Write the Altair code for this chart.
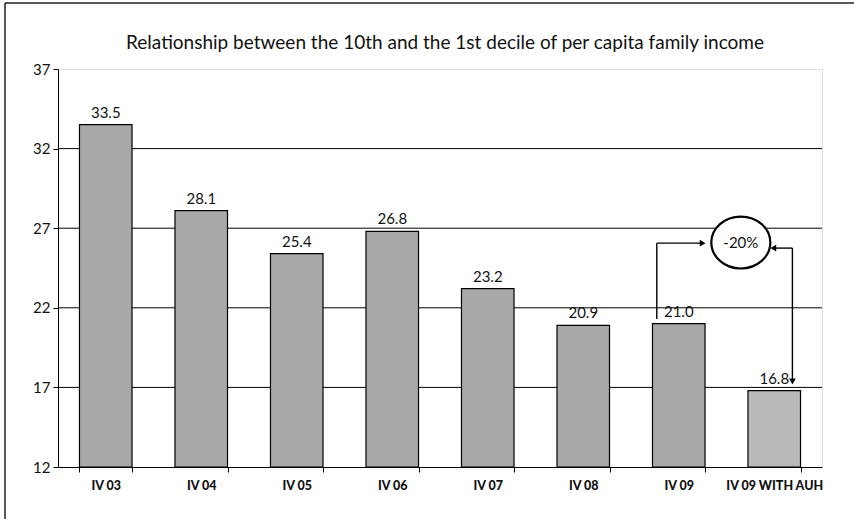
import altair as alt
import pandas as pd

title_text = "Relationship between the 10th and the 1st decile of per capita family income"
categories = ["IV 03", "IV 04", "IV 05", "IV 06", "IV 07", "IV 08", "IV 09", "IV 09 WITH AUH"]
values = [33.5, 28.1, 25.4, 26.8, 23.2, 20.9, 21.0, 16.8]
kinds = ["base", "base", "base", "base", "base", "base", "base", "auh"]
y_ticks = [12, 17, 22, 27, 32, 37]
grid_vals = [17, 22, 27, 32]

# annotation (data units: x in category slots 0..8, y in ratio units)
seg_x = [6.27, 6.27, 7.49, 7.69]
seg_x2 = [6.27, 6.75, 7.69, 7.69]
seg_y = [21.3, 26.06, 25.75, 25.75]
seg_y2 = [26.06, 26.06, 25.75, 17.37]
head_x = [6.75, 7.49, 7.69]
head_y = [26.06, 25.75, 17.37]
head_shape = ["triangle-right", "triangle-left", "triangle-down"]
ell_x = [7.15]
ell_y = [26.1]
ell_text = ["-20%"]

W, H = 764, 398

df = pd.DataFrame({"cat": categories, "val": values, "kind": kinds})
df["lab"] = [f"{v:.1f}" for v in values]

yscale = alt.Scale(domain=[12, 37], zero=False, nice=False)
yaxis = alt.Axis(values=y_ticks, grid=False, domainColor="black", tickColor="black",
                 tickSize=5, labelFont="Lato", labelFontSize=15, labelColor="#111",
                 labelPadding=3)

xband = alt.X("cat:N", sort=categories, title=None,
              scale=alt.Scale(paddingInner=0.45, paddingOuter=0.225),
              axis=alt.Axis(labelAngle=0, tickBand="extent", labelFont="Lato",
                            labelFontWeight=900, labelFontSize=12.5, labelColor="#111",
                            domainColor="black", tickColor="black", tickSize=5, labelPadding=7,
                            grid=False))

base = alt.Chart(df)

grid = alt.Chart(pd.DataFrame({"g": grid_vals})).mark_rule(color="black", strokeWidth=1).encode(
    y=alt.Y("g:Q", scale=yscale, axis=yaxis, title=None)
)

bars = base.mark_bar(stroke="black", strokeWidth=1.2).encode(
    x=xband,
    y=alt.Y("val:Q", scale=yscale, title=None),
    y2=alt.datum(12),
    color=alt.Color("kind:N", scale=alt.Scale(domain=["base", "auh"], range=["#a8a8a8", "#b9b9b9"]), legend=None),
)

labels = base.mark_text(baseline="bottom", dy=-4, font="Lato", fontSize=15, color="#111").encode(
    x=alt.X("cat:N", sort=categories),
    y="val:Q",
    text="lab:N",
)

main = alt.layer(grid, bars, labels)

xq = alt.Scale(domain=[0, 8], nice=False, zero=False)

segs = alt.Chart(pd.DataFrame({"x": seg_x, "x2": seg_x2, "y": seg_y, "y2": seg_y2})).mark_rule(
    color="black", strokeWidth=1.4).encode(
    x=alt.X("x:Q", scale=xq, axis=None), x2="x2:Q",
    y=alt.Y("y:Q"), y2="y2:Q",
)

heads = alt.Chart(pd.DataFrame({"x": head_x, "y": head_y, "s": head_shape})).mark_point(
    filled=True, color="black", size=45, opacity=1).encode(
    x=alt.X("x:Q", scale=xq, axis=None),
    y="y:Q",
    shape=alt.Shape("s:N", scale=None, legend=None),
)

ell_df = pd.DataFrame({"x": ell_x, "y": ell_y, "t": ell_text})
ellipse = alt.Chart(ell_df).mark_point(
    shape="M-1,0A1,0.88,0,1,1,1,0A1,0.88,0,1,1,-1,0Z", size=3481, filled=False,
    stroke="black", strokeWidth=2.2, fill="white", fillOpacity=1, opacity=1).encode(
    x=alt.X("x:Q", scale=xq, axis=None), y="y:Q")
ell_txt = alt.Chart(ell_df).mark_text(font="Lato", fontSize=15, color="#111").encode(
    x=alt.X("x:Q", scale=xq, axis=None), y="y:Q", text="t:N")

one = pd.DataFrame({"a": [0]})
frame = alt.Chart(one).mark_rule(color="#222", strokeWidth=1.5).encode(
    x=alt.value(-53), y=alt.value(-66), y2=alt.value(H + 60))
frame_top = alt.Chart(one).mark_rule(color="#222", strokeWidth=1.5).encode(
    x=alt.value(-53), x2=alt.value(W + 40), y=alt.value(-66))
title = alt.Chart(one).mark_text(font="Lato", fontSize=19, color="#111", baseline="middle",
                                 align="center").encode(
    x=alt.value(W / 2 + 5), y=alt.value(-26), text=alt.value(title_text))

annot = alt.layer(segs, heads, ellipse, ell_txt, frame, frame_top, title)

chart = alt.layer(main, annot).resolve_scale(
    x="independent"
).properties(
    width=W, height=H,
    autosize=alt.AutoSizeParams(type="none"),
    padding={"left": 58, "top": 69, "right": 32, "bottom": 52},
).configure_view(stroke="#888", strokeWidth=1.5).configure(background="white")

chart.save("out.html", embed_options={"renderer": "svg", "actions": False})
